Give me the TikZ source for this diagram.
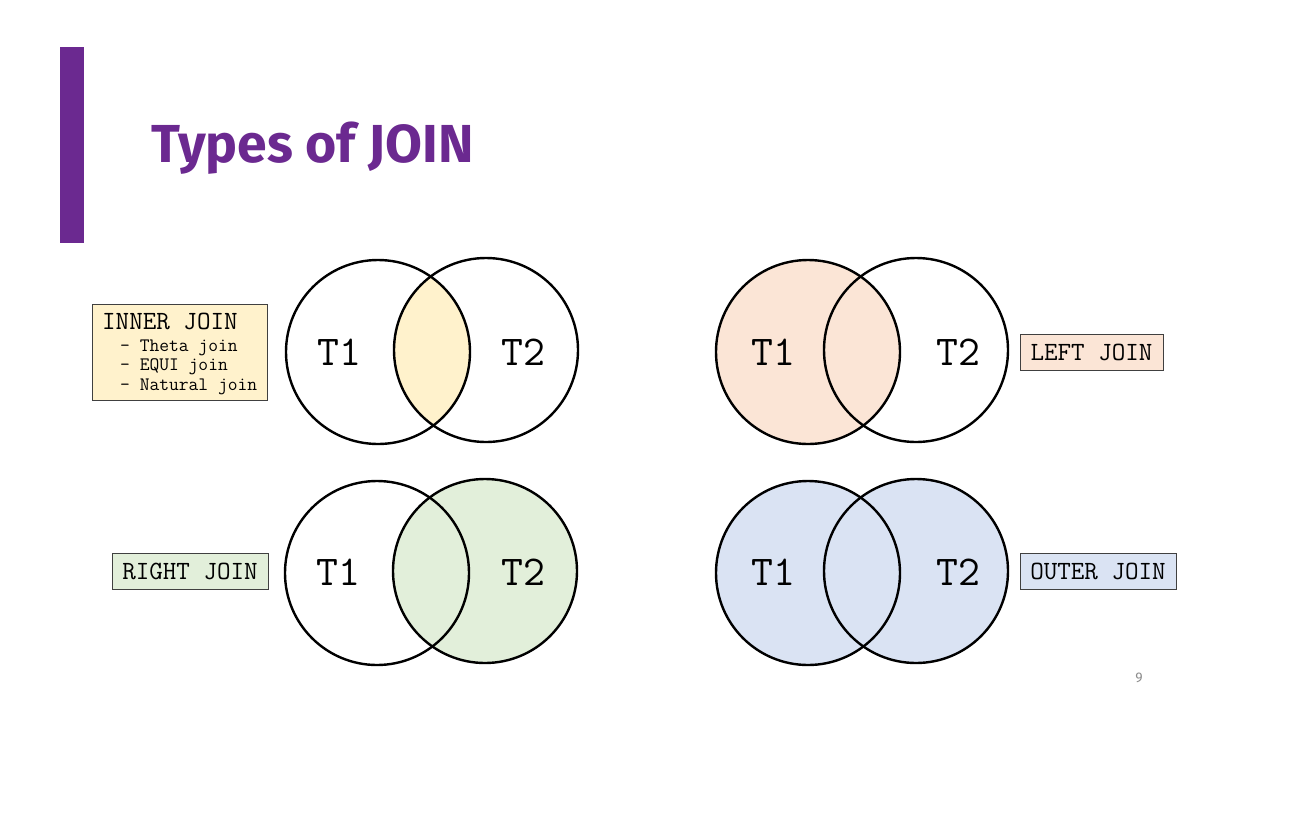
\documentclass[tikz,border=0pt]{standalone}
\usepackage{fontspec}
\setmainfont{Liberation Serif}
\newfontfamily\titlefont{Fira Sans}[BoldFont={Fira Sans Bold}]
\definecolor{titlepurple}{HTML}{6B2990}
\definecolor{innerfill}{HTML}{FFF2CC}
\definecolor{leftfill}{HTML}{FBE5D6}
\definecolor{rightfill}{HTML}{E2EFDA}
\definecolor{outerfill}{HTML}{DAE3F3}
\definecolor{boxedge}{HTML}{404040}
\definecolor{pagegray}{HTML}{8C8C8C}
\begin{document}
\begin{tikzpicture}[x=1pt,y=-1pt,
  setcircle/.style={circle,draw=black,line width=2.4pt,minimum size=184pt,inner sep=0pt},
  tlabel/.style={font=\ttfamily\fontsize{42.5}{42.5}\selectfont,inner sep=0pt},
  labelbox/.style={draw=boxedge,line width=0.9pt,inner sep=0pt,minimum height=36pt,
     font=\ttfamily\fontsize{26.3}{26.3}\selectfont},
  subline/.style={anchor=base west,inner sep=0pt,font=\ttfamily\fontsize{19}{19}\selectfont}
]
\useasboundingbox (0,0) rectangle (1296,836);
% title
\fill[titlepurple] (60,47) rectangle (84,243);
\node[anchor=base west,inner sep=0pt,text=titlepurple,font=\titlefont\bfseries\fontsize{53.5}{53.5}\selectfont] (title) at (151,162) {Types of JOIN};

% ---- INNER JOIN (top-left)
\begin{scope}
  \clip (378,352) circle (92pt);
  \fill[innerfill] (486,350) circle (92pt);
\end{scope}
\node[setcircle] (a1) at (378,352) {};
\node[setcircle] (a2) at (486,350) {};
\node[tlabel] (a1t) at (339,352) {T1};
\node[tlabel] (a2t) at (523,352) {T2};
\node[draw=boxedge,line width=0.9pt,fill=innerfill,anchor=north west,minimum width=175pt,minimum height=96pt,inner sep=0pt] (innerbox) at (92,304) {};
\node[anchor=base west,inner sep=0pt,font=\ttfamily\fontsize{26.3}{26.3}\selectfont] (innert) at (102,329) {INNER JOIN};
\node[subline] (s1) at (120,351) {- Theta join};
\node[subline] (s2) at (120,370.5) {- EQUI join};
\node[subline] (s3) at (120,390) {- Natural join};

% ---- LEFT JOIN (top-right)
\fill[leftfill] (808,352) circle (92pt);
\node[setcircle] (b1) at (808,352) {};
\node[setcircle] (b2) at (916,350) {};
\node[tlabel] (b1t) at (773,352) {T1};
\node[tlabel] (b2t) at (958,352) {T2};
\node[labelbox,fill=leftfill,minimum width=143pt] (leftbox) at (1091.5,352) {LEFT JOIN};

% ---- RIGHT JOIN (bottom-left)
\fill[rightfill] (485,571) circle (92pt);
\node[setcircle] (c1) at (377,573) {};
\node[setcircle] (c2) at (485,571) {};
\node[tlabel] (c1t) at (338,572) {T1};
\node[tlabel] (c2t) at (523,572) {T2};
\node[labelbox,fill=rightfill,minimum width=156pt] (rightbox) at (190,571) {RIGHT JOIN};

% ---- OUTER JOIN (bottom-right)
\fill[outerfill] (808,573) circle (92pt);
\fill[outerfill] (916,571) circle (92pt);
\node[setcircle] (d1) at (808,573) {};
\node[setcircle] (d2) at (916,571) {};
\node[tlabel] (d1t) at (773,572) {T1};
\node[tlabel] (d2t) at (958,572) {T2};
\node[labelbox,fill=outerfill,minimum width=156pt] (outerbox) at (1098,571) {OUTER JOIN};

% page number
\node[text=pagegray,inner sep=0pt,font=\titlefont\fontsize{14}{14}\selectfont] (pnum) at (1139,678) {9};
\end{tikzpicture}
\end{document}
